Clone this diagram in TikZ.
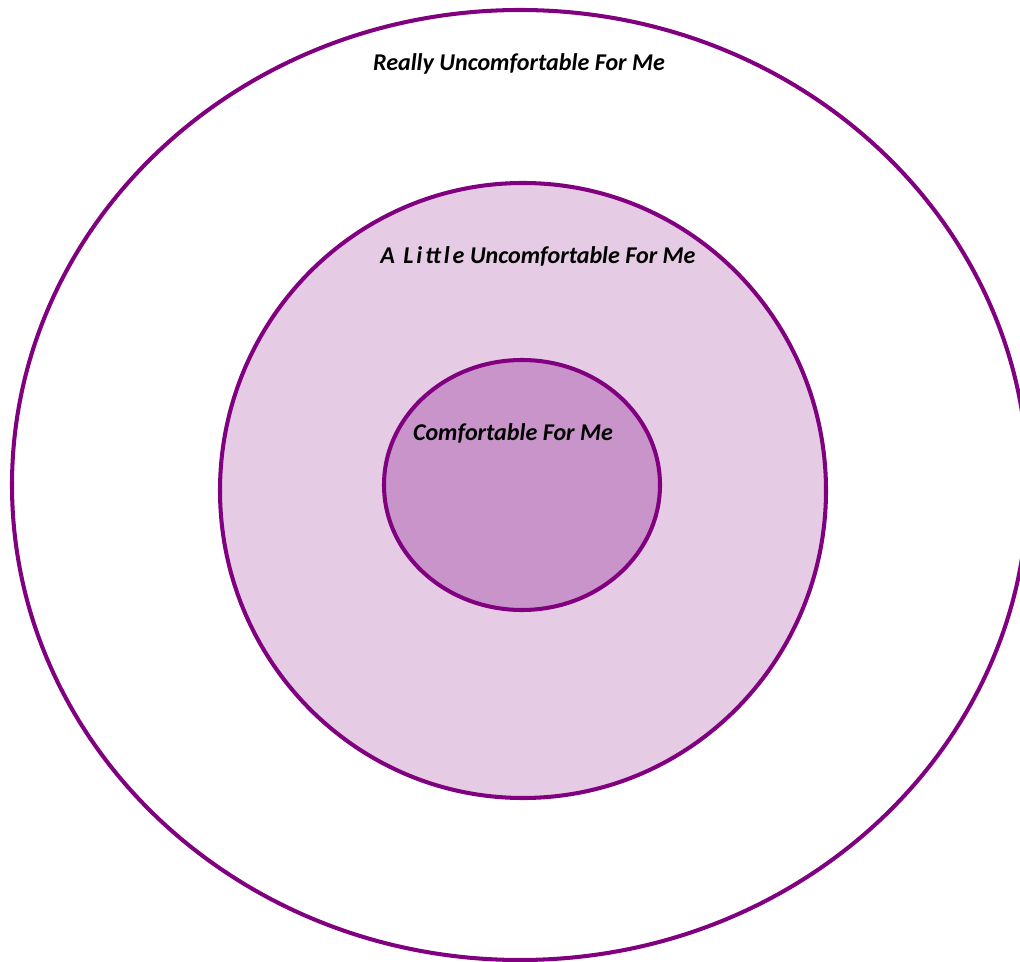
\documentclass[tikz,border=0pt]{standalone}
\usepackage{fontspec}
\setmainfont{Carlito}
\definecolor{ringline}{HTML}{800080}
\definecolor{littlefill}{HTML}{E5CBE4}
\definecolor{comfyfill}{HTML}{C994CA}
\tikzset{
	ring/.style={draw=ringline, line width=2.3pt},
	zonelabel/.style={font=\fontsize{13.7}{16}\selectfont\bfseries\itshape, inner sep=0pt}
}
\begin{document}
\begin{tikzpicture}[x=0.02cm, y=-0.02cm]
			
			\useasboundingbox (0,0) rectangle (1020,962);
			\clip (0,0) rectangle (1020,962);
			
			\filldraw[ring, fill=white] (520,485) ellipse (508 and 475);
			\filldraw[ring, fill=littlefill] (523,490.5) ellipse (303 and 307.5);
			\filldraw[ring, fill=comfyfill] (522,485) ellipse (138 and 125);
			
			\node[zonelabel] (really) at (519,64) {Really Uncomfortable For Me};
			\node[zonelabel] (little) at (538,256) {{\addfontfeature{LetterSpace=12}A Little} Uncomfortable For Me};
			\node[zonelabel] (comfy) at (513,433) {Comfortable For Me};
			
\end{tikzpicture}
\end{document}
